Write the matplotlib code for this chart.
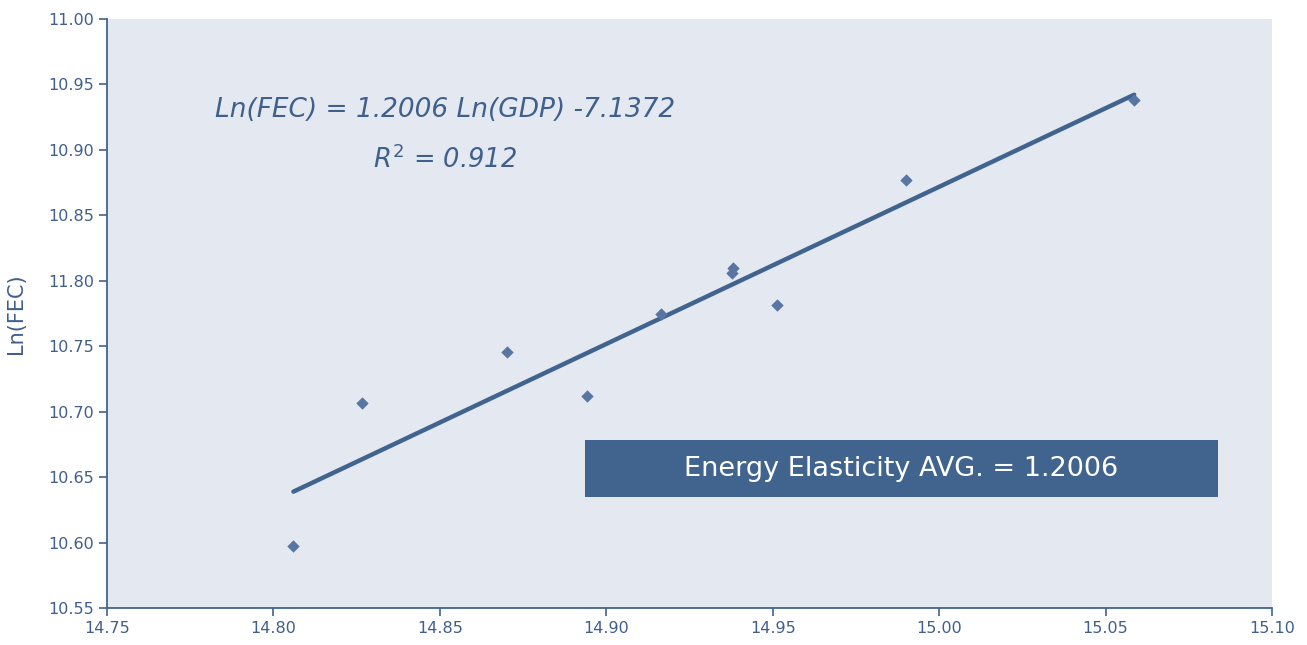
import matplotlib
matplotlib.use("Agg")
import matplotlib.pyplot as plt
from matplotlib.patches import Rectangle

# data
ln_gdp = [14.806, 14.8266, 14.8702, 14.8942, 14.9165, 14.9378, 14.9381, 14.9513, 14.9901, 15.0586]
ln_fec = [10.597, 10.7066, 10.7456, 10.712, 10.7746, 10.806, 10.8097, 10.7815, 10.877, 10.938]

slope = 1.2006
intercept = -7.1372
r2 = 0.912

x_ticks = [14.75, 14.80, 14.85, 14.90, 14.95, 15.00, 15.05, 15.10]
x_ticklabels = ["14.75", "14.80", "14.85", "14.90", "14.95", "15.00", "15.05", "15.10"]
y_ticks = [10.55, 10.60, 10.65, 10.70, 10.75, 10.80, 10.85, 10.90, 10.95, 11.00]
y_ticklabels = ["10.55", "10.60", "10.65", "10.70", "10.75", "11.80", "10.85", "10.90", "10.95", "11.00"]

blue = "#41648f"
marker_blue = "#5876a3"
text_blue = "#3f5f8c"
bg = "#e4e8f1"

plt.rcParams["font.family"] = ["DejaVu Sans"]

fig = plt.figure(figsize=(13.07, 6.45), dpi=100)
ax = fig.add_axes([0.0819, 0.0574, 0.8913, 0.9131])
ax.set_facecolor(bg)

ax.scatter(ln_gdp, ln_fec, marker="D", s=40, color=marker_blue, zorder=3, linewidths=0)

# trend line over the data range
x0, x1 = min(ln_gdp), max(ln_gdp)
ax.plot([x0, x1], [slope * x0 + intercept, slope * x1 + intercept],
        color=blue, lw=3.2, solid_capstyle="round", zorder=2)

ax.set_xlim(14.75, 15.10)
ax.set_ylim(10.55, 11.00)
ax.set_xticks(x_ticks)
ax.set_xticklabels(x_ticklabels)
ax.set_yticks(y_ticks)
ax.set_yticklabels(y_ticklabels)
ax.tick_params(axis="both", colors=blue, labelcolor=text_blue, labelsize=11.5,
               length=6, width=1.2, direction="out")
for side in ("top", "right"):
    ax.spines[side].set_visible(False)
for side in ("left", "bottom"):
    ax.spines[side].set_color(blue)
    ax.spines[side].set_linewidth(1.3)

ax.set_ylabel("Ln(FEC)", color=text_blue, fontsize=15, labelpad=16)

ax.text(14.8516, 10.9305, f"Ln(FEC) = {slope:.4f} Ln(GDP) {intercept:.4f}",
        ha="center", va="center", style="italic", fontsize=19, color=text_blue)
ax.text(14.8516, 10.8923, f"$R^2$ = {r2}", ha="center", va="center",
        style="italic", fontsize=18.5, color=text_blue)

# annotation box
bx0, bx1, by0, by1 = 14.8936, 15.0838, 10.6348, 10.6783
ax.add_patch(Rectangle((bx0, by0), bx1 - bx0, by1 - by0, facecolor=blue,
                       edgecolor="none", zorder=4))
ax.text((bx0 + bx1) / 2, (by0 + by1) / 2, f"Energy Elasticity AVG. = {slope:.4f}",
        ha="center", va="center", fontsize=19.5, color="white", zorder=5)

plt.savefig("out.png", dpi=100)
plt.close()
